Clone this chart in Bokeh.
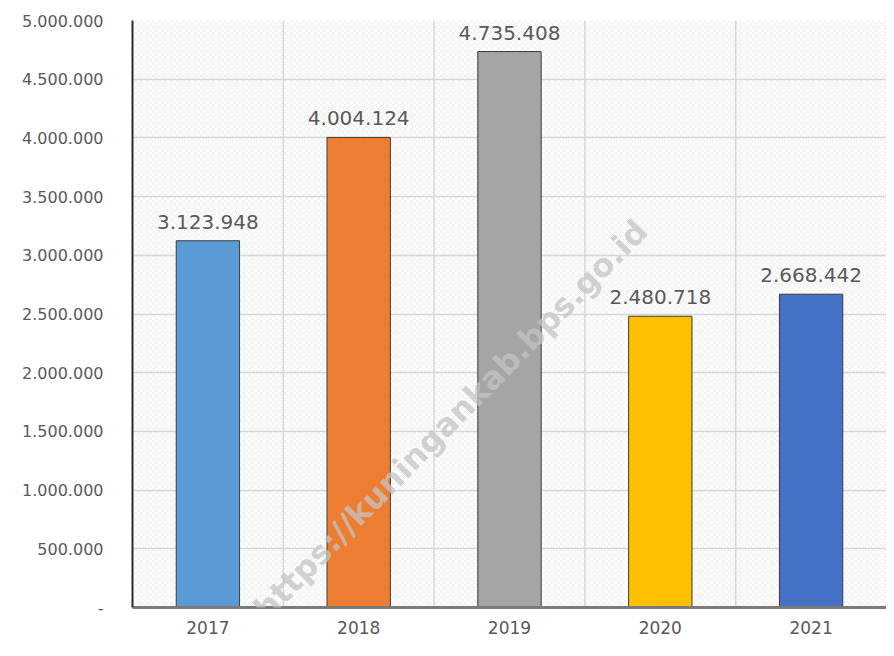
from bokeh.plotting import figure
from bokeh.models import (ColumnDataSource, FactorRange, Range1d, FixedTicker,
                          CustomJSTickFormatter, LabelSet, BoxAnnotation, Span, Label)
from bokeh.core.properties import value
from bokeh.embed import file_html
from bokeh.resources import INLINE
import math

years = ["2017", "2018", "2019", "2020", "2021"]
values = [3123948, 4004124, 4735408, 2480718, 2668442]
colors = ["#5B9BD5", "#ED7D31", "#A5A5A5", "#FFC000", "#4472C4"]
y_ticks = [0, 500000, 1000000, 1500000, 2000000, 2500000, 3000000,
           3500000, 4000000, 4500000, 5000000]
watermark = "https://kuningankab.bps.go.id"

def fmt(v):
    return "{:,}".format(v).replace(",", ".")

source = ColumnDataSource(data=dict(
    year=years, value=values, color=colors, label=[fmt(v) for v in values]))

FONT = "DejaVu Sans"
TXT = "#595959"

p = figure(x_range=FactorRange(*years), y_range=Range1d(0, 5000000),
           width=886, height=640, output_backend="svg", toolbar_location=None,
           min_border_left=132, min_border_right=0, min_border_top=20,
           min_border_bottom=33)
p.outline_line_color = None
p.background_fill_color = "white"
p.border_fill_color = "white"

# subtle hatched plot background
bg = BoxAnnotation(left=0, right=len(years), bottom=0, top=5000000,
                   fill_color="white", fill_alpha=1.0, line_color=None,
                   hatch_pattern="x", hatch_color="#ebebeb", hatch_alpha=1.0,
                   hatch_scale=6, hatch_weight=1, level="image")
p.add_layout(bg)

p.vbar(x="year", top="value", width=0.42, source=source, fill_color="color",
       line_color="#3a3a3a", line_width=1)

# grids
p.xgrid.grid_line_color = None
p.ygrid.ticker = FixedTicker(ticks=y_ticks)
p.ygrid.grid_line_color = "#d6d6d6"
p.ygrid.grid_line_width = 1.5
for i in range(1, len(years) + 1):
    p.add_layout(Span(location=i, dimension="height", line_color="#d6d6d6",
                      line_width=1.5, level="underlay"))

# axes
p.yaxis.ticker = FixedTicker(ticks=y_ticks)
p.yaxis.formatter = CustomJSTickFormatter(code="""
    if (tick == 0) { return '-'; }
    return Math.round(tick).toString().replace(/\\B(?=(\\d{3})+(?!\\d))/g, '.');
""")
p.yaxis.major_tick_line_color = None
p.yaxis.minor_tick_line_color = None
p.yaxis.major_tick_out = 0
p.yaxis.major_label_standoff = 29
p.yaxis.axis_line_color = "#2b2b2b"
p.yaxis.axis_line_width = 2
p.yaxis.major_label_text_font = FONT
p.yaxis.major_label_text_font_size = "16px"
p.yaxis.major_label_text_color = TXT

p.xaxis.major_tick_line_color = None
p.xaxis.major_tick_out = 0
p.xaxis.major_label_standoff = 13
p.xaxis.axis_line_color = "#7a7a7a"
p.xaxis.axis_line_width = 3
p.xaxis.major_label_text_font = FONT
p.xaxis.major_label_text_font_size = "17px"
p.xaxis.major_label_text_color = TXT

labels = LabelSet(x="year", y="value", text="label", source=source,
                  text_align="center", text_baseline="bottom", y_offset=12,
                  text_font=value(FONT), text_font_size=value("20px"),
                  text_color=TXT)
p.add_layout(labels)

wm = Label(x=2.11, y=1600000, text=watermark, angle=math.radians(45.5),
           text_align="center", text_baseline="middle", text_font=FONT,
           text_font_style="bold", text_font_size="32px",
           text_color="#c4c4c4", text_alpha=0.75)
p.add_layout(wm)

open("out.html", "w").write(file_html(p, INLINE))
